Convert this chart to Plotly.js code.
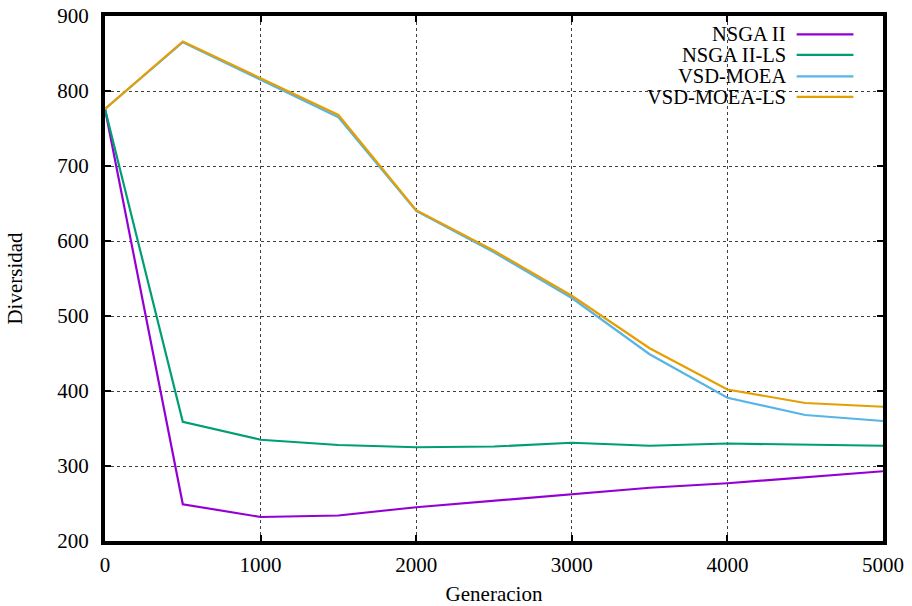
<!DOCTYPE html>
<html>
<head>
<meta charset="utf-8">
<script src="https://cdn.plot.ly/plotly-3.0.1.min.js"></script>
<style>html,body{margin:0;padding:0;background:#fff;}#chart{width:912px;height:606px;}</style>
</head>
<body>
<div id="chart"></div>
<script>
const generations = [0, 500, 1000, 1500, 2000, 2500, 3000, 3500, 4000, 4500, 5000];
const seriesNames = ["NSGA II", "NSGA II-LS", "VSD-MOEA", "VSD-MOEA-LS"];
const nsga2 =      [776, 249, 232, 234, 245, 254, 262, 271, 277, 285, 293];
const nsga2LS =    [776, 359, 335, 328, 325, 326, 331, 327, 330, 329, 327];
const vsdMoea =    [776, 865, 815, 765, 640, 585, 524, 449, 391, 368, 360];
const vsdMoeaLS =  [776, 866, 817, 768, 641, 587, 527, 457, 402, 384, 379];
const colors = ["#9400d3", "#009e73", "#56b4e9", "#e69f00"];
const xTicks = [0, 1000, 2000, 3000, 4000, 5000];
const yTicks = [200, 300, 400, 500, 600, 700, 800, 900];

const values = [nsga2, nsga2LS, vsdMoea, vsdMoeaLS];
const FONT = "Liberation Serif, Times New Roman, serif";
const FS = 21;

const traces = values.map((v, i) => ({
  x: generations, y: v, name: seriesNames[i], type: "scatter", mode: "lines",
  line: {color: colors[i], width: 2.2}, showlegend: false
}));

// custom legend (text right, sample line on the right, like gnuplot)
const legY = [0.965, 0.926, 0.885, 0.846];
const annotations = seriesNames.map((n, i) => ({
  xref: "paper", yref: "paper", x: 0.877, y: legY[i], xanchor: "right", yanchor: "middle",
  height: 20, valign: "middle", borderpad: 0,
  text: n, showarrow: false, font: {family: FONT, size: 20.5, color: "#000"}
}));
const shapes = seriesNames.map((n, i) => ({
  type: "line", xref: "paper", yref: "paper", x0: 0.889, x1: 0.962, y0: legY[i], y1: legY[i],
  line: {color: colors[i], width: 2.2}
}));

const axisCommon = {
  showgrid: true, gridcolor: "rgba(0,0,0,0.75)", gridwidth: 1, griddash: "dot",
  zeroline: false, showline: true, linecolor: "#000", linewidth: 4, mirror: "allticks",
  ticks: "inside", ticklen: 6, tickwidth: 2, tickcolor: "#000",
  tickfont: {family: FONT, size: FS, color: "#000"}
};

const layout = {
  width: 912, height: 606,
  margin: {l: 105, r: 29, t: 16, b: 65},
  paper_bgcolor: "#fff", plot_bgcolor: "#fff",
  font: {family: FONT, size: FS, color: "#000"},
  xaxis: Object.assign({}, axisCommon, {
    range: [0, 5000], tickvals: xTicks, ticktext: xTicks.map(String), ticklabelstandoff: 2,
    title: {text: "Generacion", font: {family: FONT, size: FS}, standoff: 16}
  }),
  yaxis: Object.assign({}, axisCommon, {
    range: [200, 900], tickvals: yTicks, ticktext: yTicks.map(String), ticklabelstandoff: 8,
    title: {text: "Diversidad", font: {family: FONT, size: FS}, standoff: 30}
  }),
  annotations: annotations,
  shapes: shapes
};

Plotly.newPlot("chart", traces, layout, {staticPlot: true});
</script>
</body>
</html>
